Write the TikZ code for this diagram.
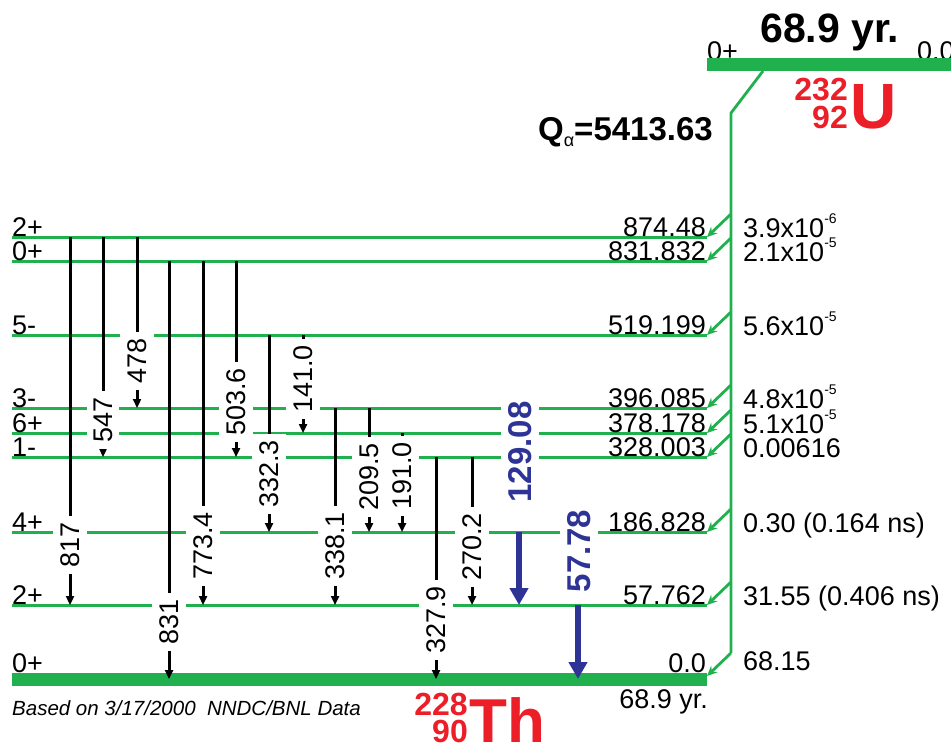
\documentclass[tikz,border=0pt]{standalone}
\usepackage{fontspec}
\setmainfont{Liberation Sans}
\usetikzlibrary{arrows.meta}
\definecolor{lvgreen}{RGB}{32,176,78}
\definecolor{isored}{RGB}{236,30,40}
\definecolor{gblue}{RGB}{45,52,150}
\newcommand{\expo}[1]{\raisebox{14pt}{\fontsize{14}{14}\selectfont #1}}

\begin{document}
\begin{tikzpicture}[x=1pt, y=-1pt,
  every node/.style={inner sep=0pt},
  txt/.style={font=\fontsize{27}{30}\selectfont},
  lev/.style={draw=lvgreen, line width=3pt},
  gs/.style={draw=lvgreen, line width=13pt},
  feed/.style={draw=lvgreen, line width=2.8pt, -{Stealth[length=10pt,width=9pt]}},
  gam/.style={draw=black, line width=3pt, -{Triangle[length=9pt,width=8pt]}},
  big/.style={draw=gblue, line width=6pt, -{Triangle[length=17pt,width=18pt]}},
  glab/.style={fill=white, rotate=90, inner xsep=6pt, inner ysep=7pt,
               font=\fontsize{27}{30}\selectfont},
  blab/.style={glab, inner xsep=8pt, text=gblue, font=\fontsize{33}{36}\selectfont\bfseries},
  iso/.style={text=isored, font=\fontsize{32}{34}\selectfont\bfseries}
]
\useasboundingbox (0,0) rectangle (951,748);
\clip (0,0) rectangle (951,748);

% levels of 228Th (right ends)
\coordinate (l874) at (707,237);
\coordinate (l832) at (707,261);
\coordinate (l519) at (707,335);
\coordinate (l396) at (707,408);
\coordinate (l378) at (707,433);
\coordinate (l328) at (707,457);
\coordinate (l187) at (707,532);
\coordinate (l58)  at (707,605);
\coordinate (l0)   at (707,679);

\draw[lev] (12,0 |- l874) -- (l874);
\draw[lev] (12,0 |- l832) -- (l832);
\draw[lev] (12,0 |- l519) -- (l519);
\draw[lev] (12,0 |- l396) -- (l396);
\draw[lev] (12,0 |- l378) -- (l378);
\draw[lev] (12,0 |- l328) -- (l328);
\draw[lev] (12,0 |- l187) -- (l187);
\draw[lev] (12,0 |- l58) -- (l58);
\draw[gs] (12,0 |- l0) -- (l0);

% parent level
\node[txt, anchor=base west] (p0) at (707,60) {0+};
\node[txt, anchor=base west] (pe) at (917,60) {0.0};
\coordinate (ulev) at (707,64.5);
\draw[gs] (ulev) -- (951,64.5);
\node[anchor=base west, font=\fontsize{41}{44}\selectfont\bfseries] (uhalf) at (760,42) {68.9 yr.};

% alpha feeding
\coordinate (ustart) at (763,71);
\coordinate (ukink) at (731,113);
\coordinate (ubot) at (731,653);
\draw[lvgreen, line width=2.8pt] (ustart) -- (ukink) -- (ubot);
\draw[feed] ([shift={(24,-23)}]l874) -- (l874);
\draw[feed] ([shift={(24,-23)}]l832) -- (l832);
\draw[feed] ([shift={(24,-23)}]l519) -- (l519);
\draw[feed] ([shift={(24,-23)}]l396) -- (l396);
\draw[feed] ([shift={(24,-23)}]l378) -- (l378);
\draw[feed] ([shift={(24,-23)}]l328) -- (l328);
\draw[feed] ([shift={(24,-23)}]l187) -- (l187);
\draw[feed] ([shift={(24,-23)}]l58) -- (l58);
\draw[feed] (ubot) -- ([shift={(0,-3)}]l0);

% gamma rays
\draw[gam] (70,0 |- l874) -- (70,0 |- l58);
\draw[gam] (103,0 |- l874) -- (103,0 |- l328);
\draw[gam] (137,0 |- l874) -- (137,0 |- l396);
\draw[gam] (169,0 |- l832) -- (169,0 |- l0);
\draw[gam] (203,0 |- l832) -- (203,0 |- l58);
\draw[gam] (236,0 |- l832) -- (236,0 |- l328);
\draw[gam] (269,0 |- l519) -- (269,0 |- l187);
\draw[gam] (303,0 |- l519) -- (303,0 |- l378);
\draw[gam] (335,0 |- l396) -- (335,0 |- l58);
\draw[gam] (369,0 |- l396) -- (369,0 |- l187);
\draw[gam] (402,0 |- l378) -- (402,0 |- l187);
\draw[gam] (436,0 |- l328) -- (436,0 |- l0);
\draw[gam] (472,0 |- l328) -- (472,0 |- l58);

\node[glab] (g817) at (70,545) {817};
\node[glab] (g547) at (103,420) {547};
\node[glab] (g478) at (137,361) {478};
\node[glab] (g831) at (169,622) {831};
\node[glab] (g773) at (203,546) {773.4};
\node[glab] (g504) at (236,402) {503.6};
\node[glab] (g332) at (269,474) {332.3};
\node[glab] (g141) at (303,379) {141.0};
\node[glab] (g338) at (335,546) {338.1};
\node[glab] (g210) at (369,477) {209.5};
\node[glab] (g191) at (402,476) {191.0};
\node[glab] (g328) at (436,620) {327.9};
\node[glab] (g270) at (472,547) {270.2};
\node[blab] (g129) at (520,452) {129.08};
\node[blab] (g58) at (579,551) {57.78};

\draw[big] (519,0 |- l187) -- (519,0 |- l58);
\draw[big] (578,0 |- l58) -- (578,0 |- l0);

% spins
\node[txt, anchor=base west] (s874) at (12,236) {2+};
\node[txt, anchor=base west] (s832) at (12,260) {0+};
\node[txt, anchor=base west] (s519) at (12,334) {5-};
\node[txt, anchor=base west] (s396) at (12,407) {3-};
\node[txt, anchor=base west] (s378) at (12,432) {6+};
\node[txt, anchor=base west] (s328) at (12,456) {1-};
\node[txt, anchor=base west] (s187) at (12,531) {4+};
\node[txt, anchor=base west] (s58) at (12,604) {2+};
\node[txt, anchor=base west] (s0) at (12,672) {0+};

% energies
\node[txt, anchor=base east] (e874) at (706,236) {874.48};
\node[txt, anchor=base east] (e832) at (706,260) {831.832};
\node[txt, anchor=base east] (e519) at (706,334) {519.199};
\node[txt, anchor=base east] (e396) at (706,407) {396.085};
\node[txt, anchor=base east] (e378) at (706,432) {378.178};
\node[txt, anchor=base east] (e328) at (706,456) {328.003};
\node[txt, anchor=base east] (e187) at (706,531) {186.828};
\node[txt, anchor=base east] (e58) at (706,604) {57.762};
\node[txt, anchor=base east] (e0) at (706,672) {0.0};
\node[txt, anchor=base east] (thalf) at (708,708) {68.9 yr.};

% alpha intensities
\node[txt, anchor=base west] (i874) at (743,237) {3.9x10\expo{-6}};
\node[txt, anchor=base west] (i832) at (743,261) {2.1x10\expo{-5}};
\node[txt, anchor=base west] (i519) at (743,335) {5.6x10\expo{-5}};
\node[txt, anchor=base west] (i396) at (743,408) {4.8x10\expo{-5}};
\node[txt, anchor=base west] (i378) at (743,433) {5.1x10\expo{-5}};
\node[txt, anchor=base west] (i328) at (743,457) {0.00616};
\node[txt, anchor=base west] (i187) at (743,532) {0.30 (0.164 ns)};
\node[txt, anchor=base west] (i58) at (743,605) {31.55 (0.406 ns)};
\node[txt, anchor=base west] (i0) at (743,670) {68.15};

% Q value
\node[anchor=base east, font=\fontsize{33}{36}\selectfont\bfseries] (qval) at (713,140)
  {Q\raisebox{-6pt}{\fontsize{18}{18}\selectfont\mdseries α}=5413.63};

% nuclides
\node[iso, anchor=base east] (ua) at (848,100) {232};
\node[iso, anchor=base east] (uz) at (848,128) {92};
\node[iso, anchor=base west, font=\fontsize{64}{66}\selectfont\bfseries] (uu) at (850,128) {U};
\node[iso, anchor=base east] (tha) at (468,715) {228};
\node[iso, anchor=base east] (thz) at (468,742) {90};
\node[iso, anchor=base west, font=\fontsize{62}{64}\selectfont\bfseries] (thth) at (469,742) {Th};

\node[anchor=base west, font=\fontsize{20.5}{24}\selectfont\itshape] (src) at (12,715)
  {Based on 3/17/2000\ \ NNDC/BNL Data};
\end{tikzpicture}
\end{document}
